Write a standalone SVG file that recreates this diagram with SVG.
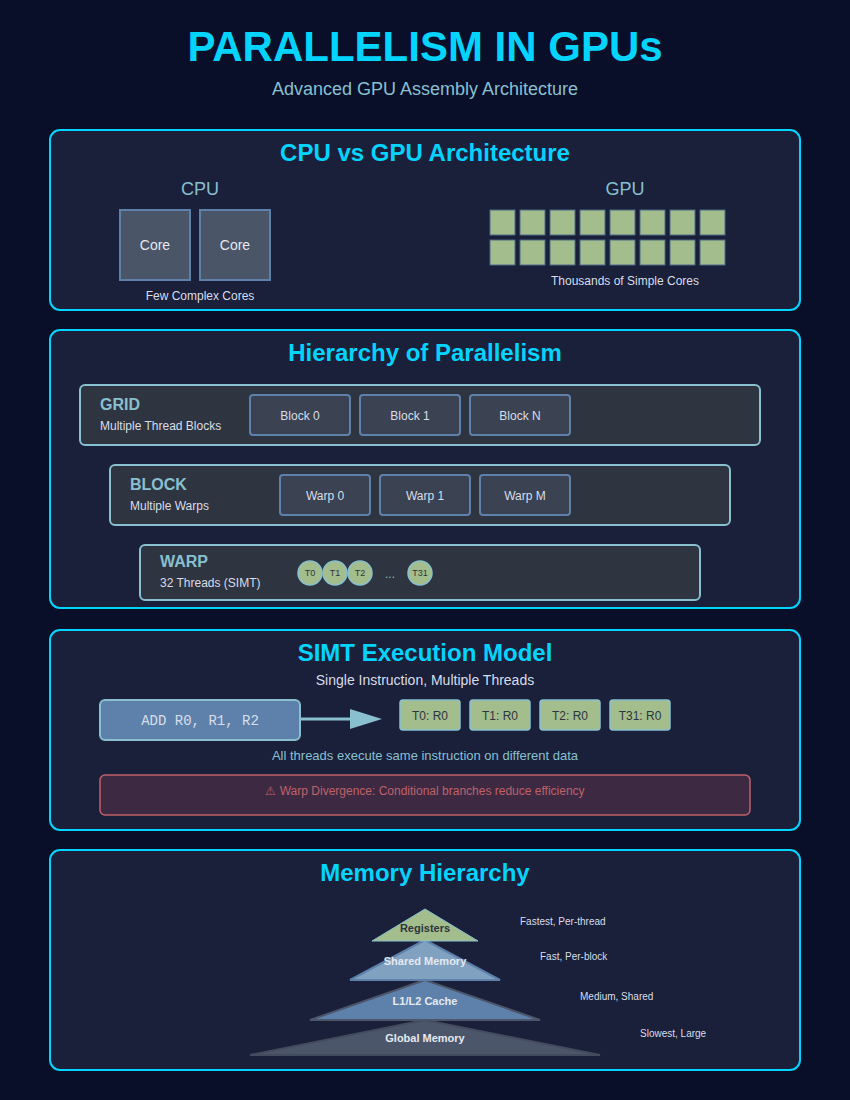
<svg xmlns="http://www.w3.org/2000/svg" width="850" height="1100" viewBox="0 0 850 1100">
<style>
text{font-family:"Liberation Sans",Arial,sans-serif}
text.mono{font-family:"Liberation Mono","Courier New",monospace}
.sec{fill:#1a1f3a;stroke:#00d4ff;stroke-width:2}
.stitle{font-size:24px;font-weight:bold;fill:#00d4ff;text-anchor:middle}
.lbl{font-size:18px;fill:#88c0d0;text-anchor:middle}
.core{fill:#4a5568;stroke:#5e81ac;stroke-width:2}
.ctext{font-size:14px;fill:#e5e9f0;text-anchor:middle}
.small{font-size:12px;fill:#d8dee9;text-anchor:middle}
.gcore{fill:#a3be8c;stroke:#4c6a8a;stroke-width:1}
.level{fill:#2e3440;stroke:#88c0d0;stroke-width:2}
.lvt{font-size:16px;font-weight:bold;fill:#88c0d0}
.lvs{font-size:12px;fill:#d8dee9}
.unit{fill:#3b4252;stroke:#5e81ac;stroke-width:2}
.utext{font-size:12px;fill:#d8dee9;text-anchor:middle}
.thr{fill:#a3be8c;stroke:#88c0d0;stroke-width:1.5}
.ttext{font-size:9px;fill:#2e3440;text-anchor:middle}
.tbox{fill:#a3be8c;stroke:#88c0d0;stroke-width:1.5}
.tbt{font-size:12px;fill:#2e3440;text-anchor:middle}
.memt{font-size:11px;font-weight:bold;fill:#e5e9f0;text-anchor:middle}
.meml{font-size:10px;fill:#d8dee9}
</style>
<rect width="850" height="1100" fill="#0a0f29"/>
<text x="425" y="61" font-size="42" font-weight="bold" fill="#00d4ff" text-anchor="middle">PARALLELISM IN GPUs</text>
<text x="425" y="95" font-size="18" fill="#88c0d0" text-anchor="middle">Advanced GPU Assembly Architecture</text>

<g id="section-cpu-gpu">
<rect class="sec" x="50" y="130" width="750" height="180" rx="10"/>
<text class="stitle" x="425" y="161">CPU vs GPU Architecture</text>
<text class="lbl" x="200" y="195">CPU</text>
<g id="cpu-core-0"><rect class="core" x="120" y="210" width="70" height="70"/><text class="ctext" x="155" y="250">Core</text></g>
<g id="cpu-core-1"><rect class="core" x="200" y="210" width="70" height="70"/><text class="ctext" x="235" y="250">Core</text></g>
<text class="small" x="200" y="300">Few Complex Cores</text>
<text class="lbl" x="625" y="195">GPU</text>
<g id="gpu-cores">
<rect class="gcore" x="490" y="210" width="25" height="25"/><rect class="gcore" x="520" y="210" width="25" height="25"/><rect class="gcore" x="550" y="210" width="25" height="25"/><rect class="gcore" x="580" y="210" width="25" height="25"/><rect class="gcore" x="610" y="210" width="25" height="25"/><rect class="gcore" x="640" y="210" width="25" height="25"/><rect class="gcore" x="670" y="210" width="25" height="25"/><rect class="gcore" x="700" y="210" width="25" height="25"/>
<rect class="gcore" x="490" y="240" width="25" height="25"/><rect class="gcore" x="520" y="240" width="25" height="25"/><rect class="gcore" x="550" y="240" width="25" height="25"/><rect class="gcore" x="580" y="240" width="25" height="25"/><rect class="gcore" x="610" y="240" width="25" height="25"/><rect class="gcore" x="640" y="240" width="25" height="25"/><rect class="gcore" x="670" y="240" width="25" height="25"/><rect class="gcore" x="700" y="240" width="25" height="25"/>
</g>
<text class="small" x="625" y="285">Thousands of Simple Cores</text>
</g>

<g id="section-hierarchy">
<rect class="sec" x="50" y="330" width="750" height="278" rx="10"/>
<text class="stitle" x="425" y="361">Hierarchy of Parallelism</text>
<g id="grid">
<rect class="level" x="80" y="385" width="680" height="60" rx="5"/>
<text class="lvt" x="100" y="410">GRID</text>
<text class="lvs" x="100" y="430">Multiple Thread Blocks</text>
<g id="block-0"><rect class="unit" x="250" y="395" width="100" height="40" rx="3"/><text class="utext" x="300" y="420">Block 0</text></g>
<g id="block-1"><rect class="unit" x="360" y="395" width="100" height="40" rx="3"/><text class="utext" x="410" y="420">Block 1</text></g>
<g id="block-n"><rect class="unit" x="470" y="395" width="100" height="40" rx="3"/><text class="utext" x="520" y="420">Block N</text></g>
</g>
<g id="block">
<rect class="level" x="110" y="465" width="620" height="60" rx="5"/>
<text class="lvt" x="130" y="490">BLOCK</text>
<text class="lvs" x="130" y="510">Multiple Warps</text>
<g id="warp-0"><rect class="unit" x="280" y="475" width="90" height="40" rx="3"/><text class="utext" x="325" y="500">Warp 0</text></g>
<g id="warp-1"><rect class="unit" x="380" y="475" width="90" height="40" rx="3"/><text class="utext" x="425" y="500">Warp 1</text></g>
<g id="warp-m"><rect class="unit" x="480" y="475" width="90" height="40" rx="3"/><text class="utext" x="525" y="500">Warp M</text></g>
</g>
<g id="warp">
<rect class="level" x="140" y="545" width="560" height="55" rx="5"/>
<text class="lvt" x="160" y="567">WARP</text>
<text class="lvs" x="160" y="587">32 Threads (SIMT)</text>
<g id="t0"><circle class="thr" cx="310" cy="573" r="12"/><text class="ttext" x="310" y="576">T0</text></g>
<g id="t1"><circle class="thr" cx="335" cy="573" r="12"/><text class="ttext" x="335" y="576">T1</text></g>
<g id="t2"><circle class="thr" cx="360" cy="573" r="12"/><text class="ttext" x="360" y="576">T2</text></g>
<text x="390" y="578" font-size="12" fill="#88c0d0" text-anchor="middle">...</text>
<g id="t31"><circle class="thr" cx="420" cy="573" r="12"/><text class="ttext" x="420" y="576">T31</text></g>
</g>
</g>

<g id="section-simt">
<rect class="sec" x="50" y="630" width="750" height="200" rx="10"/>
<text class="stitle" x="425" y="661">SIMT Execution Model</text>
<text x="425" y="685" font-size="14" fill="#d8dee9" text-anchor="middle">Single Instruction, Multiple Threads</text>
<g id="instruction">
<rect x="100" y="700" width="200" height="40" rx="5" fill="#5e81ac" stroke="#88c0d0" stroke-width="2"/>
<text class="mono" x="200" y="725" font-size="14" fill="#d8dee9" text-anchor="middle">ADD R0, R1, R2</text>
</g>
<g id="connectors">
<line x1="300" y1="719" x2="352" y2="719" stroke="#88c0d0" stroke-width="3"/>
<polygon points="350,709 382,719 350,729" fill="#88c0d0"/>
</g>
<g id="tr-0"><rect class="tbox" x="400" y="700" width="60" height="30" rx="3"/><text class="tbt" x="430" y="720">T0: R0</text></g>
<g id="tr-1"><rect class="tbox" x="470" y="700" width="60" height="30" rx="3"/><text class="tbt" x="500" y="720">T1: R0</text></g>
<g id="tr-2"><rect class="tbox" x="540" y="700" width="60" height="30" rx="3"/><text class="tbt" x="570" y="720">T2: R0</text></g>
<g id="tr-31"><rect class="tbox" x="610" y="700" width="60" height="30" rx="3"/><text class="tbt" x="640" y="720">T31: R0</text></g>
<text x="425" y="760" font-size="13" fill="#88c0d0" text-anchor="middle">All threads execute same instruction on different data</text>
<g id="divergence">
<rect x="100" y="775" width="650" height="40" rx="5" fill="#3d2a42" stroke="#bf616a" stroke-width="1.5"/>
<text x="425" y="795" font-size="12" fill="#bf616a" text-anchor="middle">⚠ Warp Divergence: Conditional branches reduce efficiency</text>
</g>
</g>

<g id="section-memory">
<rect class="sec" x="50" y="850" width="750" height="220" rx="10"/>
<text class="stitle" x="425" y="881">Memory Hierarchy</text>
<g id="mem-global"><polygon points="425,1020 250,1055 600,1055" fill="#4c566a" stroke="#434c5e" stroke-width="2"/><text class="memt" x="425" y="1042">Global Memory</text></g>
<g id="mem-cache"><polygon points="425,980 310,1020 540,1020" fill="#5e81ac" stroke="#4c566a" stroke-width="2"/><text class="memt" x="425" y="1005">L1/L2 Cache</text></g>
<g id="mem-shared"><polygon points="425,940 350,980 500,980" fill="#81a1c1" stroke="#5e81ac" stroke-width="2"/><text class="memt" x="425" y="965">Shared Memory</text></g>
<g id="mem-registers"><polygon points="425,909 372,941 478,941" fill="#a3be8c" stroke="#88c0d0" stroke-width="1"/><text class="memt" x="425" y="932" style="fill:#2e3440">Registers</text></g>
<text class="meml" x="520" y="925">Fastest, Per-thread</text>
<text class="meml" x="540" y="960">Fast, Per-block</text>
<text class="meml" x="580" y="1000">Medium, Shared</text>
<text class="meml" x="640" y="1037">Slowest, Large</text>
</g>
</svg>
